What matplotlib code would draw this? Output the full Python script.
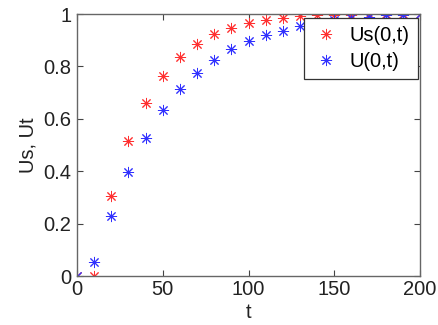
import matplotlib
matplotlib.use("Agg")
import matplotlib.pyplot as plt

plt.rcParams['font.family'] = ['Liberation Sans', 'DejaVu Sans']

t = [0, 10, 20, 30, 40, 50, 60, 70, 80, 90, 100, 110, 120, 130, 140, 150, 160, 170, 180, 190, 200]
us = [0.0, 0.0, 0.305, 0.517, 0.661, 0.765, 0.837, 0.887, 0.925, 0.945, 0.964, 0.977, 0.984, 0.992,
      0.995, 0.997, 0.998, 0.999, 0.999, 1.0, 1.0]
u = [0.0, 0.053, 0.229, 0.397, 0.528, 0.634, 0.712, 0.776, 0.826, 0.865, 0.898, 0.920, 0.936, 0.954,
     0.965, 0.976, 0.984, 0.990, 0.995, 0.998, 1.0]
xticks = [0, 50, 100, 150, 200]
yticks = [0, 0.2, 0.4, 0.6, 0.8, 1]
yticklabels = ['0', '0.2', '0.4', '0.6', '0.8', '1']

fig = plt.figure(figsize=(4.38, 3.25), dpi=100)
ax = fig.add_axes([77/438, 1-276/325, (420-77)/438, (276-14)/325])

ast = (8, 2, 0)
ax.plot(t, us, linestyle='none', marker=ast, markersize=8, markeredgewidth=0.7,
        color='#ff3030', label='Us(0,t)')
ax.plot(t, u, linestyle='none', marker=ast, markersize=8, markeredgewidth=0.7,
        color='#3030ff', label='U(0,t)')

ax.set_xlim(0, 200)
ax.set_ylim(0, 1)
ax.set_xticks(xticks)
ax.set_yticks(yticks)
ax.set_yticklabels(yticklabels)
ax.tick_params(direction='in', top=True, right=True, length=4, width=0.8,
               labelsize=14.5, color='#444444', labelcolor='#222222')
ax.tick_params(axis='x', pad=3)
ax.tick_params(axis='y', pad=4)
for s in ax.spines.values():
    s.set_color('#666666')
    s.set_linewidth(1)
ax.set_xlabel('t', fontsize=14.5, labelpad=3, color='#222222')
ax.set_ylabel('Us, Ut', fontsize=14.5, labelpad=4, color='#222222')

leg = ax.legend(loc='upper right', bbox_to_anchor=(0.994, 0.984), fontsize=14.5,
                frameon=True, fancybox=False, edgecolor='#333333', framealpha=1,
                handlelength=1.4, handletextpad=0.5, borderpad=0.4, labelspacing=0.35,
                borderaxespad=0)
leg.get_frame().set_linewidth(0.9)

fig.savefig('out.png', dpi=100)
